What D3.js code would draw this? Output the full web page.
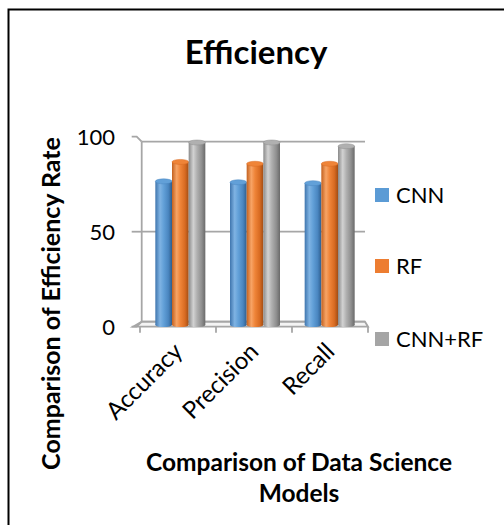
<!DOCTYPE html>
<html><head><meta charset="utf-8">
<script src="https://cdn.jsdelivr.net/npm/d3@7"></script>
<style>html,body{margin:0;padding:0;background:#fff;} svg{display:block}</style>
</head><body><svg id="c" width="504" height="525"></svg>
<script>
// ---- data ----
const categories = ["Accuracy", "Precision", "Recall"];
const seriesNames = ["CNN", "RF", "CNN+RF"];
const cnnValues = [79, 78.5, 78];
const rfValues = [89.5, 88.5, 88.5];
const cnnRfValues = [100, 100, 98];
const yTicks = [0, 50, 100];
const chartTitle = "Efficiency";
const yTitle = "Comparison of Efficiency Rate";
const xTitleLines = ["Comparison of Data Science", "Models"];

const seriesValues = [cnnValues, rfValues, cnnRfValues];
const colors = ["#5b9bd5", "#ed7d31", "#a5a5a5"];
const grads = [
  ["#3f75ad", "#7fb3e3", "#62a0d8", "#4a86c0", "#2f5e8e"],
  ["#c3611f", "#f7a466", "#ef8438", "#d86b22", "#a24d14"],
  ["#8a8a8a", "#d2d2d2", "#b0b0b0", "#8f8f8f", "#6a6a6a"]
];

const svg = d3.select("#c");
const font = "Lato, 'Open Sans', sans-serif";

// border (top & left visible)
svg.append("path").attr("d", "M8.5,530 L8.5,9.5 L510,9.5")
  .attr("fill", "none").attr("stroke", "#000").attr("stroke-width", 2);

// title
svg.append("text").attr("x", 256).attr("y", 63.5).attr("text-anchor", "middle")
  .attr("font-family", font).attr("font-weight", "bold").attr("font-size", 33)
  .attr("fill", "#000").text(chartTitle);

// scales
const yBack = d3.scaleLinear().domain([0, 100]).range([321.7, 141.7]);
const yFront = d3.scaleLinear().domain([0, 100]).range([326.7, 136.7]);
const yBar = d3.scaleLinear().domain([0, 100]).range([325, 140]);
const xBack = [141.7, 365];
const xFront = d3.scaleBand().domain(categories).range([140, 368]);
const xBar = d3.scaleBand().domain(categories).range([143, 367]);
const xSeries = d3.scaleBand().domain(seriesNames).range([0, 50]);

// defs: gradients
const defs = svg.append("defs");
seriesNames.forEach((s, i) => {
  const g = defs.append("linearGradient").attr("id", "g" + i)
    .attr("x1", 0).attr("x2", 1).attr("y1", 0).attr("y2", 0);
  const stops = [0, 0.28, 0.5, 0.78, 1];
  stops.forEach((o, k) => g.append("stop").attr("offset", o).attr("stop-color", grads[i][k]));
});

const gridColor = "#a6a6a6";
const frame = svg.append("g").attr("fill", "none").attr("stroke", gridColor).attr("stroke-width", 1.8);

// floor
frame.append("path").attr("d",
  `M${xFront.range()[0] - 7},${yFront(0)} L${xBack[0]},${yBack(0)} L${xBack[1]},${yBack(0)} L${xFront.range()[1]},${yFront(0)} Z`)
  .attr("fill", "#f4f4f4");
// back gridlines
yTicks.forEach(t => {
  frame.append("line").attr("x1", xBack[0]).attr("x2", xBack[1])
    .attr("y1", yBack(t)).attr("y2", yBack(t));
  frame.append("path").attr("d",
    `M${xBack[0] - 10},${yFront(t)} L${xBack[0] - 5},${yFront(t)} L${xBack[0]},${yBack(t)}`);
});
// left wall line
frame.append("line").attr("x1", xBack[0]).attr("x2", xBack[0])
  .attr("y1", yBack(100)).attr("y2", yBack(0));
// front x axis ticks
const fTicks = categories.map(c => xFront(c)).concat([xFront.range()[1]]);
fTicks.forEach(x => {
  frame.append("line").attr("x1", x).attr("x2", x).attr("y1", yFront(0)).attr("y2", yFront(0) + 6);
});

// y tick labels
svg.append("g").selectAll("text").data(yTicks).join("text")
  .attr("x", 115).attr("y", d => yFront(d)).attr("dy", "0.36em")
  .attr("text-anchor", "end").attr("font-family", font).attr("font-size", 22)
  .attr("fill", "#000").text(d => d);

// bars (cylinders)
const bars = svg.append("g");
seriesNames.forEach((s, i) => {
  const g = bars.append("g");
  const data = categories.map((c, j) => ({c, v: seriesValues[i][j]}));
  const w = xSeries.bandwidth();
  const x0 = d => xBar(d.c) + (xBar.bandwidth() - 50) / 2 + xSeries(s);
  g.selectAll("rect").data(data).join("rect")
    .attr("x", x0).attr("width", w)
    .attr("y", d => yBar(d.v) + 2.5).attr("height", d => yBar(0) - yBar(d.v) - 2.5)
    .attr("fill", `url(#g${i})`);
  g.selectAll("ellipse.b").data(data).join("ellipse").attr("class", "b")
    .attr("cx", d => x0(d) + w / 2).attr("cy", yBar(0)).attr("rx", w / 2).attr("ry", 2)
    .attr("fill", `url(#g${i})`);
  g.selectAll("ellipse.t").data(data).join("ellipse").attr("class", "t")
    .attr("cx", d => x0(d) + w / 2).attr("cy", d => yBar(d.v) + 2.5).attr("rx", w / 2).attr("ry", 2.5)
    .attr("fill", grads[i][2]).attr("stroke", grads[i][3]).attr("stroke-width", 0.5);
});

// category labels
svg.append("g").selectAll("text").data(categories).join("text")
  .attr("transform", d => `translate(${xFront(d) + xFront.bandwidth() / 2 + 6},${353}) rotate(-45)`)
  .attr("text-anchor", "end").attr("font-family", font).attr("font-size", 24)
  .attr("fill", "#000").text(d => d);

// axis titles
svg.append("text").attr("transform", "translate(60,303.5) rotate(-90)")
  .attr("text-anchor", "middle").attr("font-family", font).attr("font-weight", "bold")
  .attr("font-size", 25).attr("fill", "#000").text(yTitle);
svg.append("g").selectAll("text").data(xTitleLines).join("text")
  .attr("x", 299).attr("y", (d, i) => 470.7 + i * 31).attr("text-anchor", "middle")
  .attr("font-family", font).attr("font-weight", "bold").attr("font-size", 24.5)
  .attr("fill", "#000").text(d => d);

// legend
const lg = svg.append("g");
const legendY = [195, 266, 339];
seriesNames.forEach((s, i) => {
  lg.append("rect").attr("x", 375).attr("y", legendY[i] - 7).attr("width", 14).attr("height", 14)
    .attr("fill", colors[i]);
  lg.append("text").attr("x", 396).attr("y", legendY[i]).attr("dy", "0.36em")
    .attr("font-family", font).attr("font-size", 22).attr("fill", "#000").text(s);
});
</script></body></html>
